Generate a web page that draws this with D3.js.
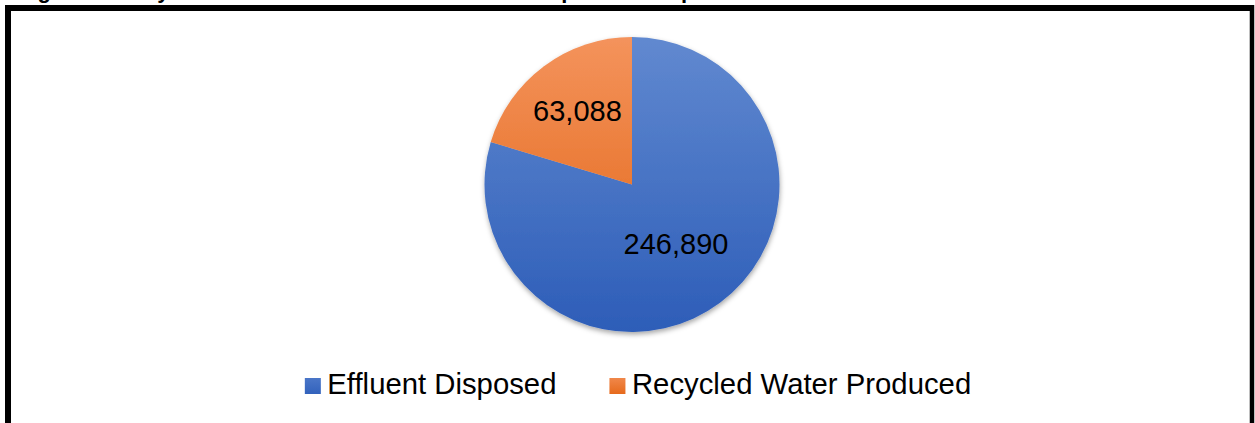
<!DOCTYPE html>
<html>
<head>
<meta charset="utf-8">
<script src="https://cdn.jsdelivr.net/npm/d3@7"></script>
<style>
	body { margin: 0; background: #fff; }
	svg { display: block; font-family: Arial, "Liberation Sans", sans-serif; }
</style>
</head>
<body>
<div id="chart"></div>
<script>
// data
var categories = ["Effluent Disposed", "Recycled Water Produced"];
var values = [246890, 63088];
var colorsTop = ["#6189d0", "#f4935c"];
var colorsBottom = ["#2d5db8", "#e0600e"];

var titleText = "Figure 4: Recycled Water Produced and Effluent Disposed Comparison";

var width = 1255,
	height = 423;

var cx = 632, cy = 184.5, radius = 147.5;

var svg = d3.select("#chart")
	.append("svg")
	  .attr("width", width)
	  .attr("height", height);

var defs = svg.append("defs");

// vertical gradients across the whole pie (local coords of the pie group)
categories.forEach(function(c, i){
	var g = defs.append("linearGradient")
		.attr("id", "grad" + i)
		.attr("gradientUnits", "userSpaceOnUse")
		.attr("x1", 0).attr("y1", -radius)
		.attr("x2", 0).attr("y2", radius);
	g.append("stop").attr("offset", "0%").attr("stop-color", colorsTop[i]);
	g.append("stop").attr("offset", "100%").attr("stop-color", colorsBottom[i]);

	var lg = defs.append("linearGradient")
		.attr("id", "lgrad" + i)
		.attr("x1", 0).attr("y1", 0)
		.attr("x2", 0).attr("y2", 1);
	lg.append("stop").attr("offset", "0%").attr("stop-color", i == 0 ? "#4a76c8" : "#f0874a");
	lg.append("stop").attr("offset", "100%").attr("stop-color", i == 0 ? "#3262bc" : "#e66a1c");
});

var shadow = defs.append("filter")
	.attr("id", "shadow")
	.attr("x", "-10%").attr("y", "-10%")
	.attr("width", "120%").attr("height", "125%");
shadow.append("feDropShadow")
	.attr("dx", 0.5).attr("dy", 2.5)
	.attr("stdDeviation", 2.5)
	.attr("flood-color", "#000")
	.attr("flood-opacity", 0.35);

// title, mostly cut off by the top of the picture
svg.append("text")
	.attr("x", 18)
	.attr("y", -2.5)
	.style("font-size", "22px")
	.style("font-weight", "bold")
	.style("fill", "#000")
	.text(titleText);

// chart frame
var frame = svg.append("g").attr("class", "frame");
frame.append("line")
	.attr("x1", 5).attr("x2", 1254)
	.attr("y1", 8).attr("y2", 8)
	.attr("stroke", "#000").attr("stroke-width", 6);
frame.append("line")
	.attr("x1", 8).attr("x2", 8)
	.attr("y1", 5).attr("y2", height + 10)
	.attr("stroke", "#000").attr("stroke-width", 6);
frame.append("line")
	.attr("x1", 1252).attr("x2", 1252)
	.attr("y1", 5).attr("y2", height + 10)
	.attr("stroke", "#000").attr("stroke-width", 4.5);

// pie, first slice starts at 12 o'clock going clockwise
var pie = d3.pie()
	.sort(null)
	.value(function(d) { return d; });

var arcs = pie(values);

var arc = d3.arc()
	.innerRadius(0)
	.outerRadius(radius);

var g = svg.append("g")
	.attr("transform", "translate(" + cx + "," + cy + ")");

g.append("g")
	.attr("filter", "url(#shadow)")
  .selectAll("path")
	.data(arcs)
  .enter().append("path")
	.attr("d", arc)
	.attr("fill", function(d, i) { return "url(#grad" + i + ")"; });

// data labels, excel puts them at slightly different radii
var labelFrac = [0.5, 0.62];
var fmt = d3.format(",");

g.selectAll(".label")
	.data(arcs)
  .enter().append("text")
	.attr("class", "label")
	.attr("transform", function(d, i) {
		var r = radius * labelFrac[i];
		var a = (d.startAngle + d.endAngle) / 2;
		return "translate(" + (Math.sin(a) * r) + "," + (-Math.cos(a) * r) + ")";
	})
	.attr("dy", "0.35em")
	.style("text-anchor", "middle")
	.style("font-size", "29px")
	.style("fill", "#000")
	.text(function(d) { return fmt(d.value); });

// legend
var legend = svg.append("g").attr("class", "legend");
var lx = 0;
var items = legend.selectAll(".item")
	.data(categories)
  .enter().append("g")
	.attr("class", "item");

items.append("rect")
	.attr("width", 16)
	.attr("height", 16)
	.attr("y", 378)
	.attr("fill", function(d, i) { return "url(#lgrad" + i + ")"; });

items.append("text")
	.attr("x", 22.5)
	.attr("y", 394)
	.style("font-size", "29.3px")
	.style("fill", "#000")
	.text(function(d) { return d; });

items.each(function(d, i) {
	var w = d3.select(this).select("text").node().getComputedTextLength();
	d3.select(this).attr("transform", "translate(" + lx + ",0)");
	lx += 22.5 + w + 53;
});
var total = lx - 53;
legend.attr("transform", "translate(" + (638 - total / 2) + ",0)");
</script>
</body>
</html>
